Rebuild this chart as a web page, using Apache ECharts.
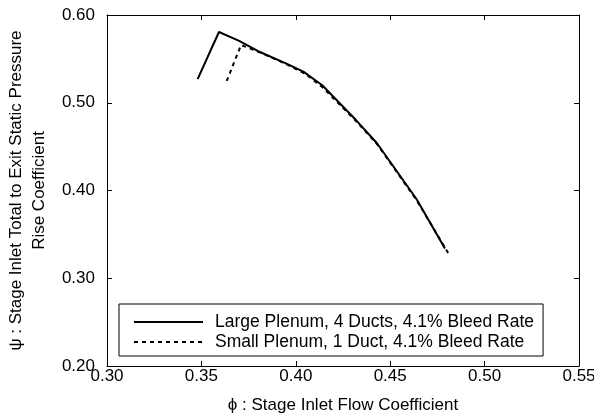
<!DOCTYPE html>
<html>
<head>
<meta charset="utf-8">
<script src="https://cdn.jsdelivr.net/npm/echarts@6/dist/echarts.min.js"></script>
<style>
html,body{margin:0;padding:0;background:#fff;}
#c{width:594px;height:417px;}
</style>
</head>
<body>
<div id="c"></div>
<script>
// Data
const seriesNames = ['Large Plenum, 4 Ducts, 4.1% Bleed Rate', 'Small Plenum, 1 Duct, 4.1% Bleed Rate'];
const phiLarge = [0.348, 0.3593, 0.370, 0.381, 0.395, 0.404, 0.414, 0.432, 0.443, 0.464, 0.479];
const psiLarge = [0.527, 0.5806, 0.5705, 0.5578, 0.5445, 0.5354, 0.520, 0.480, 0.4538, 0.390, 0.334];
const phiSmall = [0.3634, 0.371, 0.381, 0.395, 0.405, 0.414, 0.432, 0.443, 0.464, 0.481];
const psiSmall = [0.5248, 0.5658, 0.5575, 0.544, 0.533, 0.518, 0.479, 0.453, 0.389, 0.3276];
const xTicks = {min: 0.30, max: 0.55, step: 0.05};
const yTicks = {min: 0.20, max: 0.60, step: 0.10};
const xName = 'ϕ : Stage Inlet Flow Coefficient';
const yName = 'ψ : Stage Inlet Total to Exit Static Pressure\nRise Coefficient';

const FONT = '"Liberation Sans", Arial, Helvetica, sans-serif';
const pair = (xs, ys) => xs.map((x, i) => [x, ys[i]]);

const chart = echarts.init(document.getElementById('c'));
const axisLine = {show: true, lineStyle: {color: '#000', width: 1}};
const tick = {show: true, inside: true, length: 5, lineStyle: {color: '#000', width: 1}};
chart.setOption({
  animation: false,
  backgroundColor: '#fff',
  grid: {left: 107, right: 15, top: 15, bottom: 51, containLabel: false, outerBoundsMode: 'none'},
  xAxis: [{
    type: 'value', min: xTicks.min, max: xTicks.max, interval: xTicks.step,
    axisLine: axisLine, axisTick: tick, splitLine: {show: false},
    axisLabel: {color: '#000', fontSize: 17, fontFamily: FONT, margin: 2, formatter: v => v.toFixed(2)},
    name: xName, nameLocation: 'middle', nameGap: 31,
    nameTextStyle: {color: '#000', fontSize: 17, fontFamily: FONT}
  }, {
    type: 'value', position: 'top', min: xTicks.min, max: xTicks.max, interval: xTicks.step,
    axisLine: axisLine, axisTick: tick, axisLabel: {show: false}, splitLine: {show: false}
  }],
  yAxis: [{
    type: 'value', min: yTicks.min, max: yTicks.max, interval: yTicks.step,
    axisLine: axisLine, axisTick: tick, splitLine: {show: false},
    axisLabel: {color: '#000', fontSize: 17, fontFamily: FONT, margin: 12, formatter: v => v.toFixed(2)},
    name: yName, nameLocation: 'middle', nameGap: 45, nameRotate: 90,
    nameTextStyle: {color: '#000', fontSize: 17, fontFamily: FONT, lineHeight: 23, align: 'center'}
  }, {
    type: 'value', position: 'right', min: yTicks.min, max: yTicks.max, interval: yTicks.step,
    axisLine: axisLine, axisTick: tick, axisLabel: {show: false}, splitLine: {show: false}
  }],
  legend: {
    orient: 'vertical', left: 119, top: 304,
    backgroundColor: '#fff', borderColor: '#000', borderWidth: 1, borderRadius: 0,
    padding: [9, 9, 5, 14], itemGap: 2, itemWidth: 69, itemHeight: 14,
    itemStyle: {opacity: 0, color: 'rgba(0,0,0,0)', borderWidth: 0},
    textStyle: {color: '#000', fontSize: 17.5, lineHeight: 17, fontFamily: FONT, padding: [0, 0, 0, 7]},
    data: seriesNames,
    selectedMode: false
  },
  series: [{
    name: seriesNames[0], type: 'line', data: pair(phiLarge, psiLarge),
    showSymbol: false, symbol: 'none', lineStyle: {color: '#000', width: 2, type: 'solid'},
    itemStyle: {color: '#000'}, z: 3
  }, {
    name: seriesNames[1], type: 'line', data: pair(phiSmall, psiSmall),
    showSymbol: false, symbol: 'none', lineStyle: {color: '#000', width: 2, type: [4, 4]},
    itemStyle: {color: '#000'}, z: 2
  }]
});
</script>
</body>
</html>
